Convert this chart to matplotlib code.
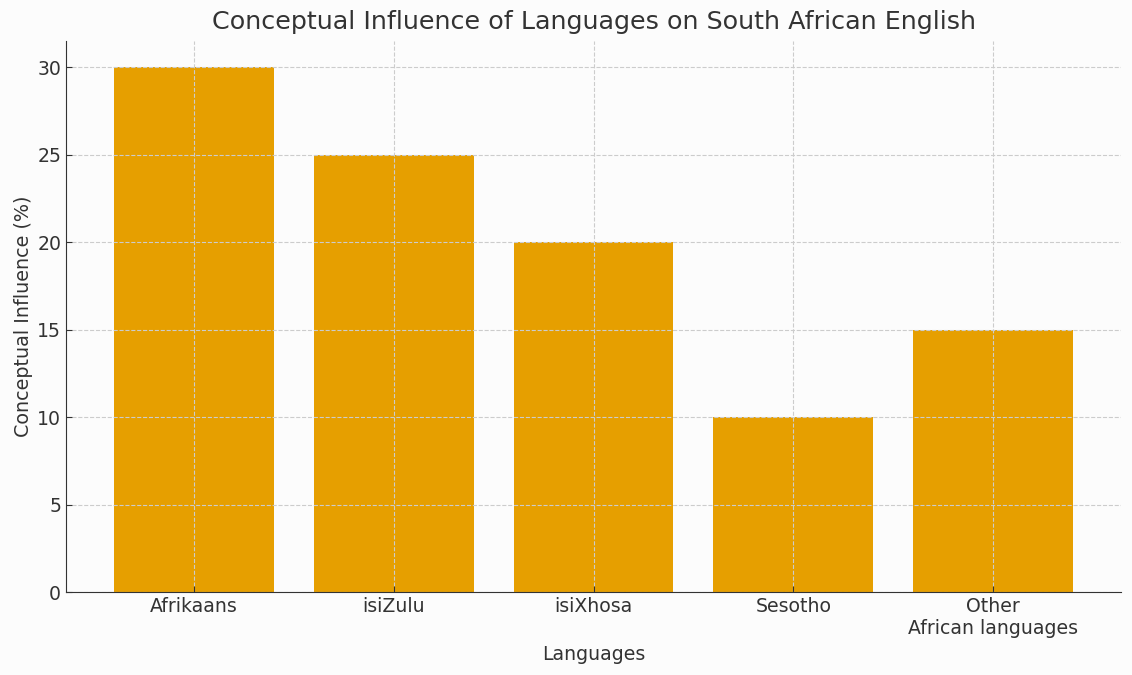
import matplotlib
matplotlib.use("Agg")
import matplotlib.pyplot as plt

languages = ["Afrikaans", "isiZulu", "isiXhosa", "Sesotho", "Other\nAfrican languages"]
influence = [30, 25, 20, 10, 15]

text_color = "#333333"
plt.rcParams["text.color"] = text_color
plt.rcParams["axes.labelcolor"] = text_color
plt.rcParams["xtick.color"] = text_color
plt.rcParams["ytick.color"] = text_color

fig = plt.figure(figsize=(11.32, 6.75), dpi=100, facecolor="#fcfcfc")
ax = fig.add_axes([66/1132, 1 - 592/675, (1121-66)/1132, (592-41)/675])
ax.set_facecolor("#fcfcfc")
ax.bar(languages, influence, color="#E69F00", width=0.8, zorder=1)
ax.grid(True, linestyle="--", color="#cccccc", linewidth=0.8, zorder=2)
ax.set_axisbelow(False)
for s in ["top", "right"]:
    ax.spines[s].set_visible(False)
for s in ["left", "bottom"]:
    ax.spines[s].set_color(text_color)
    ax.spines[s].set_zorder(3)
ax.tick_params(axis="both", direction="in", labelsize=13.6, length=4)
ax.set_title("Conceptual Influence of Languages on South African English", fontsize=18.3, pad=9, color=text_color)
ax.set_xlabel("Languages", fontsize=13.6, labelpad=5)
ax.set_ylabel("Conceptual Influence (%)", fontsize=13.8, labelpad=3)
fig.savefig("out.png", dpi=100, facecolor=fig.get_facecolor())
